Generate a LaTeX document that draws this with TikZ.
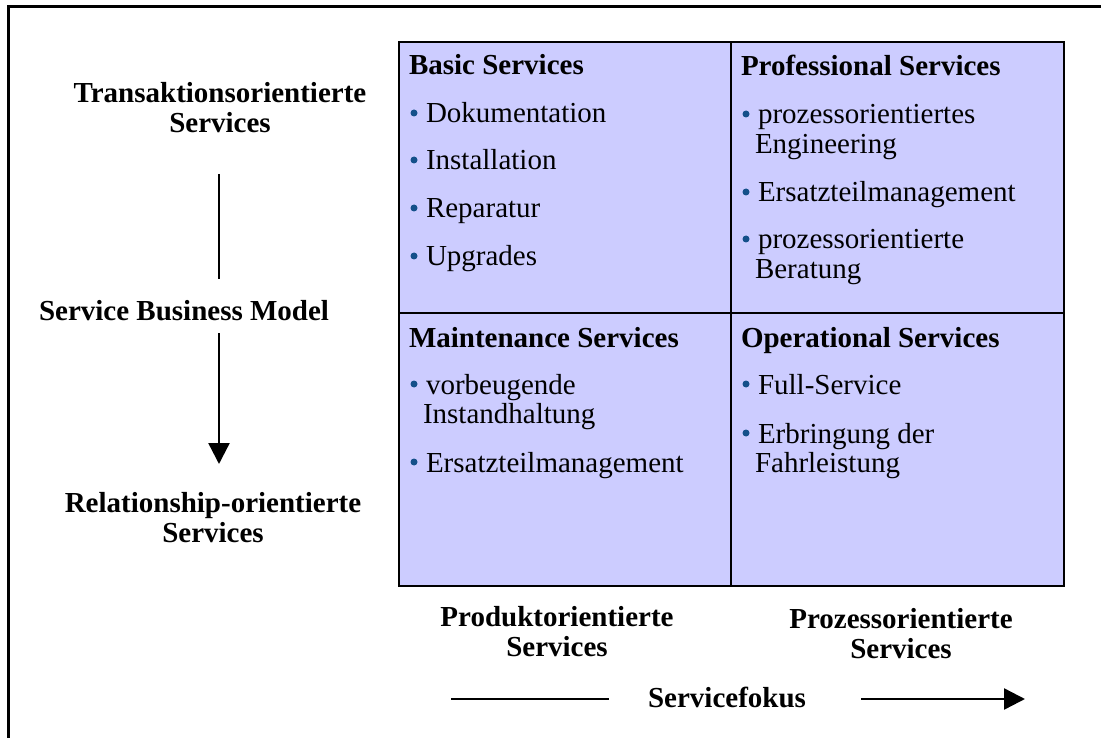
\documentclass[tikz,border=0pt]{standalone}
\usepackage{fontspec}
\setmainfont{Liberation Serif}
\usetikzlibrary{arrows.meta}
\definecolor{cellfill}{HTML}{CCCCFF}
\definecolor{bulletblue}{HTML}{14508A}
\begin{document}
\begin{tikzpicture}[x=1pt,y=-1pt,
  every node/.style={inner sep=0pt, outer sep=0pt, font=\fontsize{29}{31}\selectfont},
  head/.style={anchor=base west, font=\fontsize{29}{31}\selectfont\bfseries},
  item/.style={anchor=base west},
  lbl/.style={align=center, font=\fontsize{29}{30}\selectfont\bfseries},
  bul/.style={circle, fill=bulletblue, minimum size=7pt, inner sep=0pt},
  cell/.style={draw=black, fill=cellfill, line width=2.4pt},
  conn/.style={line width=2.4pt},
  arr/.style={line width=2.4pt, -{Triangle[length=21pt,width=21pt]}}
]
\useasboundingbox (0,0) rectangle (1101,738);
% outer frame (top and left only)
\draw[line width=3pt] (8,738) -- (8,7) -- (1101,7);
% grid
\path[cell] (399,42) rectangle (731,313);
\path[cell] (731,42) rectangle (1064,313);
\path[cell] (399,313) rectangle (731,586);
\path[cell] (731,313) rectangle (1064,586);

% Basic Services
\node[head] (h1) at (409,75) {Basic Services};
\node[bul] (b11) at (414,113) {}; \node[item] (t11) at (426,123) {Dokumentation};
\node[bul] (b12) at (414,160) {}; \node[item] (t12) at (426,170) {Installation};
\node[bul] (b13) at (414,208) {}; \node[item] (t13) at (426,218) {Reparatur};
\node[bul] (b14) at (414,256) {}; \node[item] (t14) at (426,266) {Upgrades};

% Professional Services
\node[head] (h2) at (741,76) {Professional Services};
\node[bul] (b21) at (746,114) {}; \node[item] (t21) at (758,124) {prozessorientiertes};
\node[item] (t21b) at (755,154) {Engineering};
\node[bul] (b22) at (746,192) {}; \node[item] (t22) at (758,202) {Ersatzteilmanagement};
\node[bul] (b23) at (746,239) {}; \node[item] (t23) at (758,249) {prozessorientierte};
\node[item] (t23b) at (755,279) {Beratung};

% Maintenance Services
\node[head] (h3) at (409,347) {Maintenance Services};
\node[bul] (b31) at (414,384) {}; \node[item] (t31) at (426,394) {vorbeugende};
\node[item] (t31b) at (423,423) {Instandhaltung};
\node[bul] (b32) at (414,462) {}; \node[item] (t32) at (426,472) {Ersatzteilmanagement};

% Operational Services
\node[head] (h4) at (741,347) {Operational Services};
\node[bul] (b41) at (746,384) {}; \node[item] (t41) at (758,394) {Full-Service};
\node[bul] (b42) at (746,433) {}; \node[item] (t42) at (758,443) {Erbringung der};
\node[item] (t42b) at (755,472) {Fahrleistung};

% left labels
\node[lbl] (ltop) at (220,108) {Transaktionsorientierte\\Services};
\node[lbl] (lmid) at (184,311) {Service Business Model};
\node[lbl] (lbot) at (213,518) {Relationship-orientierte\\Services};
\coordinate (v1) at (219,174);
\coordinate (v2) at (219,279);
\coordinate (v3) at (219,333);
\coordinate (v4) at (219,464);
\draw[conn] (v1) -- (v2);
\draw[arr] (v3) -- (v4);

% bottom labels
\node[lbl] (bl) at (557,632) {Produktorientierte\\Services};
\node[lbl] (br) at (901,634) {Prozessorientierte\\Services};
\node[lbl] (fok) at (727,697) {Servicefokus};
\coordinate (h1a) at (451,699);
\coordinate (h1b) at (609,699);
\coordinate (h2a) at (861,699);
\coordinate (h2b) at (1025,699);
\draw[conn] (h1a) -- (h1b);
\draw[arr] (h2a) -- (h2b);
\end{tikzpicture}
\end{document}
